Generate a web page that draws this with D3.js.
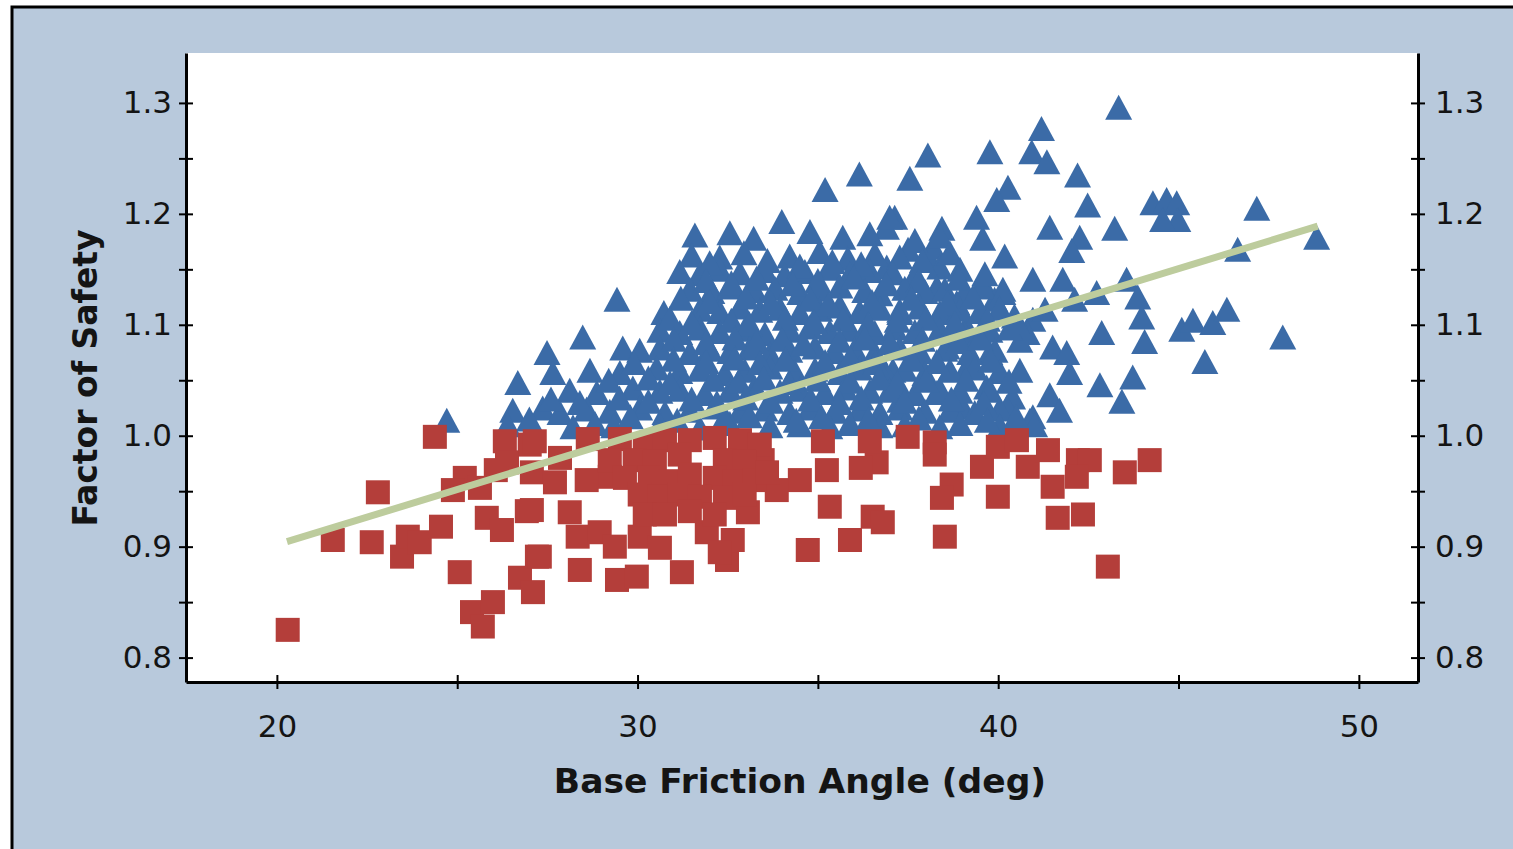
<!DOCTYPE html>
<html>
<head>
<meta charset="utf-8">
<script src="https://cdn.jsdelivr.net/npm/d3@7"></script>
<style>
  html, body { margin: 0; padding: 0; background: #ffffff; overflow: hidden; }
  text { font-family: "DejaVu Sans", Verdana, sans-serif; }
</style>
</head>
<body>
<svg id="chart" width="1513" height="849"></svg>
<script>
// Stable cases: [base friction angle (deg), factor of safety]
const safePoints = [
  [43.34,1.296],[41.2,1.277],[40.93,1.256],[41.35,1.247],[42.2,1.235],[39.77,1.256],[38.05,1.253],
  [37.55,1.232],[36.15,1.236],[35.2,1.222],[40.27,1.224],[39.96,1.213],[39.4,1.197],[39.57,1.178],
  [37.13,1.197],[36.9,1.188],[38.44,1.187],[37.5,1.168],[38.1,1.159],[42.48,1.208],[41.43,1.188],
  [42.26,1.179],[42.04,1.167],[43.23,1.187],[44.29,1.21],[44.67,1.213],[44.95,1.21],[44.98,1.195],
  [44.56,1.195],[47.17,1.205],[48.83,1.179],[46.64,1.168],[40.96,1.141],[41.79,1.141],[42.73,1.129],
  [43.56,1.141],[43.87,1.125],[40.13,1.132],[40.96,1.105],[40.6,1.086],[41.51,1.08],[41.9,1.075],
  [42.87,1.093],[43.98,1.107],[44.06,1.085],[45.09,1.096],[45.4,1.104],[45.95,1.102],[46.34,1.114],
  [47.89,1.089],[45.73,1.067],[40.6,1.059],[41.98,1.057],[42.82,1.046],[43.73,1.053],[43.43,1.031],
  [40.4,1.035],[40.96,1.017],[39.57,1.138],[39.9,1.123],[38.85,1.12],[39.02,1.093],[40.8,1.093],
  [36.91,1.152],[38.19,1.17],[38.38,1.152],[37.63,1.141],[37.27,1.111],[38.3,1.134],[38.85,1.116],
  [39.57,1.134],[40.13,1.129],[39.13,1.098],[38.58,1.08],[37.74,1.071],[37.08,1.059],[39.13,1.062],
  [39.77,1.075],[39.68,1.044],[38.3,1.039],[37.27,1.032],[39.02,1.026],[40.24,1.026],[40.88,1.014],
  [29.43,1.123],[30.73,1.111],[28.48,1.089],[29.59,1.079],[27.49,1.075],[26.68,1.048],[27.65,1.057],
  [24.71,1.014],[34.0,1.193],[36.99,1.197],
  [41.3,1.114],[41.43,1.037],[41.7,1.023],[42.12,1.123],[40.45,1.108],
  [31.59,1.181],[32.56,1.183],[33.22,1.178],[34.78,1.184],[35.69,1.179],[36.44,1.182],[37.69,1.176],[38.38,1.18],
  [31.5,1.163],[32.28,1.161],[32.95,1.165],[34.22,1.162],[35.05,1.166],[35.83,1.16],[36.58,1.164],[37.27,1.161],[38.66,1.165],[40.18,1.162],
  [31.17,1.148],[31.73,1.146],[32.28,1.15],[32.84,1.147],[33.53,1.149],[34.08,1.145],[34.64,1.148],[35.33,1.151],[35.89,1.146],[36.44,1.149],[37.08,1.147],[38.94,1.15],[39.63,1.146],
  [31.45,1.132],[32.06,1.13],[32.56,1.134],[33.25,1.131],[33.81,1.133],[34.5,1.129],[35.05,1.132],[35.61,1.135],[36.3,1.131],[36.72,1.128],[37.41,1.133],[37.97,1.13],[38.52,1.132],[39.07,1.129],
  [31.73,1.114],[32.28,1.112],[32.84,1.116],[33.39,1.113],[33.95,1.115],[34.5,1.111],[35.05,1.114],[35.61,1.117],[36.16,1.112],[36.72,1.115],[37.27,1.113],[37.83,1.116],[38.38,1.111],[38.94,1.114],[39.49,1.112],[40.04,1.115],
  [30.62,1.095],[31.17,1.093],[31.73,1.097],[32.28,1.094],[32.97,1.096],[33.53,1.092],[34.22,1.095],[34.78,1.098],[35.33,1.094],[35.89,1.096],[36.58,1.093],[37.13,1.097],[37.69,1.094],[38.38,1.096],[39.07,1.092],[39.77,1.095],[40.32,1.097],
  [30.06,1.077],[30.62,1.079],[31.45,1.075],[32.0,1.078],[32.56,1.076],[33.11,1.079],[33.67,1.074],[34.22,1.077],[34.92,1.08],[35.47,1.076],[36.02,1.078],[36.58,1.075],[37.27,1.079],[37.83,1.076],[38.52,1.078],[39.21,1.075],[39.91,1.077],
  [28.68,1.059],[29.51,1.057],[30.53,1.061],[31.17,1.058],[31.73,1.06],[32.42,1.056],[32.97,1.059],[33.67,1.062],[34.36,1.058],[34.92,1.06],[35.61,1.057],[36.16,1.061],[36.86,1.058],[37.41,1.06],[37.97,1.056],[38.66,1.059],[39.35,1.061],[40.04,1.058],
  [28.12,1.041],[28.87,1.039],[29.87,1.043],[30.62,1.04],[31.17,1.042],[31.87,1.038],[32.56,1.041],[33.25,1.044],[33.95,1.04],[34.5,1.042],[35.19,1.039],[35.75,1.043],[36.44,1.04],[36.99,1.041],[37.69,1.038],[38.38,1.042],[38.94,1.04],[39.77,1.041],
  [26.54,1.023],[27.37,1.025],[27.85,1.021],[28.59,1.024],[29.23,1.022],[30.06,1.025],[30.76,1.021],[31.45,1.023],[32.14,1.026],[32.84,1.022],[33.53,1.024],[34.22,1.021],[34.78,1.025],[35.47,1.022],[36.16,1.024],[36.72,1.021],[37.27,1.025],[37.97,1.022],[38.66,1.023],[39.35,1.021],[40.04,1.024],
  [26.4,1.01],[28.21,1.008],[28.82,1.011],[29.34,1.009],[30.62,1.01],[31.73,1.007],[32.56,1.011],[33.67,1.009],[34.5,1.01],[35.33,1.008],[35.89,1.011],[36.72,1.009],[37.41,1.01],[38.38,1.008],[38.94,1.011],[40.04,1.009],[41.01,1.01],
  [32.0,1.156],[33.6,1.158],[34.5,1.153],[35.4,1.157],[36.2,1.155],[37.9,1.158],
  [31.9,1.14],[32.6,1.138],[33.3,1.142],[34.3,1.137],[35.0,1.14],[36.0,1.143],[36.9,1.137],[37.8,1.14],[38.9,1.142],
  [31.2,1.124],[32.0,1.121],[33.0,1.125],[33.7,1.12],[34.8,1.123],[35.3,1.119],[36.5,1.121],[37.6,1.124],[38.6,1.12],[39.3,1.125],
  [30.9,1.106],[31.5,1.102],[32.6,1.104],[33.1,1.101],[34.1,1.106],[34.9,1.103],[35.7,1.105],[36.4,1.101],[37.2,1.104],[38.0,1.106],[38.8,1.102],[39.7,1.105],[40.5,1.103],
  [31.0,1.087],[31.9,1.084],[32.7,1.088],[33.3,1.085],[34.0,1.087],[34.6,1.083],[35.6,1.086],[36.3,1.088],[37.0,1.084],[37.9,1.087],[38.9,1.085],[39.5,1.088],
  [29.9,1.066],[31.0,1.069],[31.9,1.067],[32.7,1.07],[33.4,1.066],[34.1,1.069],[35.2,1.067],[35.9,1.07],[36.6,1.066],[37.6,1.069],[38.3,1.067],[39.8,1.068],
  [29.2,1.05],[30.3,1.052],[30.9,1.048],[32.1,1.051],[32.8,1.049],[33.5,1.052],[34.2,1.048],[35.0,1.051],[35.9,1.049],[36.7,1.052],[37.2,1.048],[38.0,1.05],[39.1,1.051],[40.3,1.049],
  [27.6,1.033],[28.4,1.03],[29.5,1.034],[30.3,1.031],[31.5,1.033],[32.2,1.03],[33.0,1.034],[33.7,1.031],[34.8,1.033],[35.6,1.03],[36.2,1.034],[37.4,1.031],[38.7,1.033],[39.6,1.03],
  [27.0,1.015],[29.8,1.017],[31.1,1.014],[32.4,1.016],[33.1,1.018],[34.4,1.014],[35.1,1.017],[36.4,1.015],[37.8,1.016],[39.7,1.014],[40.5,1.017]
];

// Failed cases: [base friction angle (deg), factor of safety]
const failPoints = [
  [20.3,0.825],[21.55,0.906],[22.63,0.904],[22.8,0.949],[23.47,0.891],[23.63,0.909],[23.96,0.904],
  [24.38,0.999],[24.55,0.918],[25.07,0.877],[25.21,0.962],[24.88,0.951],[25.63,0.953],[26.07,0.969],
  [26.32,0.995],[27.01,0.992],[25.82,0.926],[26.24,0.915],[25.41,0.841],[25.99,0.85],[25.71,0.828],
  [26.93,0.932],[27.07,0.967],[26.74,0.872],[27.1,0.859],[27.21,0.891],[26.38,0.976],[27.15,0.995],
  [27.71,0.958],[28.62,0.997],[29.23,0.963],[28.59,0.96],[28.12,0.931],[27.07,0.933],[28.34,0.909],
  [28.95,0.913],[29.37,0.9],[30.06,0.909],[27.29,0.891],[28.4,0.879],[29.43,0.87],[29.98,0.873],
  [31.23,0.877],[31.92,0.913],[32.48,0.888],[32.64,0.906],[33.06,0.931],[34.72,0.897],[35.33,0.936],
  [35.89,0.906],[36.52,0.927],[36.63,0.976],[36.44,0.995],[35.14,0.995],[34.5,0.96],[33.86,0.951],
  [33.47,0.978],[37.49,0.999],[38.24,0.994],[38.24,0.983],[39.55,0.972],[39.99,0.99],[40.52,0.996],
  [40.82,0.972],[41.38,0.987],[41.51,0.954],[42.21,0.978],[42.54,0.978],[42.18,0.963],[43.51,0.967],
  [44.2,0.978],[38.71,0.956],[38.44,0.944],[39.99,0.945],[38.52,0.909],[41.65,0.926],[42.35,0.929],
  [43.04,0.882],[36.8,0.922],[36.19,0.971],
  [29.51,0.997],[30.2,0.992],[30.76,0.996],[31.45,0.996],[32.14,0.998],[32.84,0.996],[33.39,0.992],
  [29.23,0.978],[29.92,0.978],[30.48,0.977],[31.17,0.983],[32.42,0.978],[32.97,0.977],
  [29.65,0.962],[30.34,0.962],[30.9,0.959],[31.45,0.965],[32.14,0.962],[32.7,0.959],[33.25,0.96],
  [30.06,0.947],[30.62,0.945],[31.17,0.947],[31.73,0.945],[32.42,0.944],[32.97,0.947],
  [30.2,0.929],[30.76,0.929],[31.45,0.932],[32.14,0.929],[27.85,0.98],[32.28,0.895],[35.25,0.969],
  [33.59,0.967],[30.62,0.899]
];

// Linear trend across all cases (start and end of the fitted line)
const trendX = [20.28, 48.86];
const trendY = [0.9045, 1.189];

const xTicks = [20, 25, 30, 35, 40, 45, 50];
const xTickLabels = ["20", "", "30", "", "40", "", "50"];
const yTicks = [0.8, 0.85, 0.9, 0.95, 1.0, 1.05, 1.1, 1.15, 1.2, 1.25, 1.3];
const yTickLabels = ["0.8", "", "0.9", "", "1.0", "", "1.1", "", "1.2", "", "1.3"];
const xTitle = "Base Friction Angle (deg)";
const yTitle = "Factor of Safety";

const W = 1513, H = 849;
const plot = { left: 186, right: 1418, top: 53, bottom: 682 };
const colors = {
  panel: "#b8c9dc", safe: "#3b6ba7", fail: "#b43e3a", trend: "#bdcc9d", ink: "#141414"
};

const svg = d3.select("#chart");

// Outer panel with its frame on the left and top
svg.append("rect").attr("x", 12).attr("y", 7).attr("width", W - 12).attr("height", H - 7)
  .attr("fill", colors.panel);
svg.append("path").attr("d", `M12,${H} L12,7 L${W},7`)
  .attr("fill", "none").attr("stroke", "#000").attr("stroke-width", 3);

// Plotting area
svg.append("rect").attr("x", plot.left).attr("y", plot.top)
  .attr("width", plot.right - plot.left).attr("height", plot.bottom - plot.top)
  .attr("fill", "#ffffff");

const x = d3.scaleLinear().domain([17.48, 51.64]).range([plot.left, plot.right]);
const y = d3.scaleLinear().domain([0.778, 1.345]).range([plot.bottom, plot.top]);

svg.append("defs").append("clipPath").attr("id", "plotClip")
  .append("rect").attr("x", plot.left).attr("y", plot.top)
  .attr("width", plot.right - plot.left).attr("height", plot.bottom - plot.top);

const marks = svg.append("g").attr("clip-path", "url(#plotClip)");

// Stable cases as triangles
const triW = 27, triH = 25;
marks.append("g").selectAll("path").data(safePoints).join("path")
  .attr("d", d => {
    const cx = x(d[0]), cy = y(d[1]);
    return `M${cx},${cy - triH / 2} L${cx + triW / 2},${cy + triH / 2} L${cx - triW / 2},${cy + triH / 2} Z`;
  })
  .attr("fill", colors.safe);

// Failed cases as squares
const sq = 24;
marks.append("g").selectAll("rect").data(failPoints).join("rect")
  .attr("x", d => x(d[0]) - sq / 2).attr("y", d => y(d[1]) - sq / 2)
  .attr("width", sq).attr("height", sq)
  .attr("fill", colors.fail);

// Trend line
marks.append("path")
  .datum(trendX.map((v, i) => [v, trendY[i]]))
  .attr("d", d3.line().x(d => x(d[0])).y(d => y(d[1])))
  .attr("fill", "none").attr("stroke", colors.trend).attr("stroke-width", 7);

// Axes: ticks cross the axis line
const tickLen = 7;
function styleAxis(g, crossAttr, sign) {
  g.select(".domain").attr("stroke", "#000").attr("stroke-width", 3);
  g.selectAll(".tick line").attr("stroke", "#000").attr("stroke-width", 2)
    .attr(crossAttr, sign * tickLen);
  g.selectAll(".tick text").attr("fill", colors.ink).style("font-size", "31px")
    .style("font-family", "'DejaVu Sans', Verdana, sans-serif");
}

const yFmt = (d, i) => yTickLabels[i];
const xFmt = (d, i) => xTickLabels[i];

svg.append("g").attr("transform", `translate(${plot.left},0)`)
  .call(d3.axisLeft(y).tickValues(yTicks).tickFormat(yFmt).tickSize(tickLen).tickSizeOuter(0).tickPadding(7))
  .call(g => styleAxis(g, "x1", 1));

svg.append("g").attr("transform", `translate(${plot.right},0)`)
  .call(d3.axisRight(y).tickValues(yTicks).tickFormat(yFmt).tickSize(tickLen).tickSizeOuter(0).tickPadding(10))
  .call(g => styleAxis(g, "x1", -1));

svg.append("g").attr("transform", `translate(0,${plot.bottom})`)
  .call(d3.axisBottom(x).tickValues(xTicks).tickFormat(xFmt).tickSize(tickLen).tickSizeOuter(0).tickPadding(26))
  .call(g => styleAxis(g, "y1", -1));

// Axis titles
svg.append("text").attr("x", 800).attr("y", 793)
  .attr("text-anchor", "middle").attr("fill", colors.ink)
  .style("font-size", "34.5px").style("font-weight", "bold")
  .text(xTitle);

svg.append("text").attr("transform", "translate(97,378) rotate(-90)")
  .attr("text-anchor", "middle").attr("fill", colors.ink)
  .style("font-size", "33px").style("font-weight", "bold")
  .text(yTitle);
</script>
</body>
</html>
